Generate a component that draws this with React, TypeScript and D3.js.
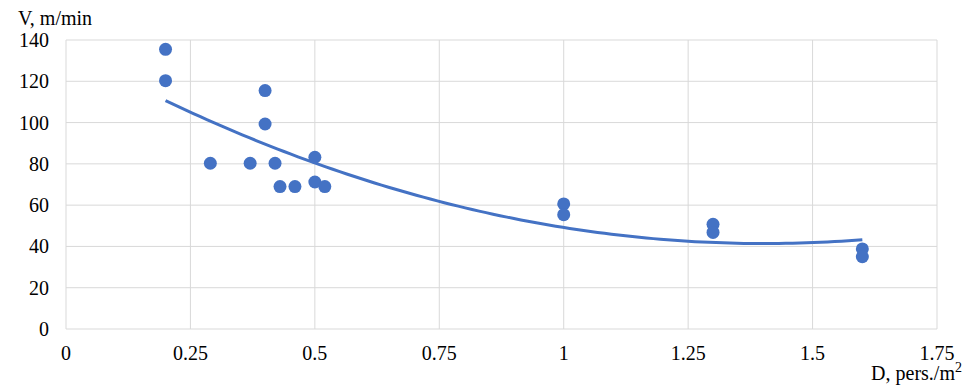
import * as d3 from "d3";

// density D (pers./m2) and speed V (m/min)
const densities = [0.2, 0.2, 0.29, 0.37, 0.4, 0.4, 0.42, 0.43, 0.46, 0.5, 0.5, 0.52, 1, 1, 1.3, 1.3, 1.6, 1.6];
const speeds = [135.5, 120.3, 80.3, 80.3, 115.5, 99.3, 80.3, 69, 69, 83.2, 71.2, 69, 60.6, 55.4, 50.7, 46.8, 38.8, 35];
const xTicks = [0, 0.25, 0.5, 0.75, 1, 1.25, 1.5, 1.75];
const yTicks = [0, 20, 40, 60, 80, 100, 120, 140];

const width = 969;
const height = 387;
const margin = { top: 40, right: 32, bottom: 58, left: 66 };
const serif = "Liberation Serif";

// least squares fit of order 2, like the spreadsheet trendline
function polyFit(xs: number[], ys: number[]) {
  const s = (p: number) => d3.sum(xs, (x) => Math.pow(x, p));
  const t = (p: number) => d3.sum(xs, (x, i) => Math.pow(x, p) * ys[i]);
  const m = [
    [s(4), s(3), s(2), t(2)],
    [s(3), s(2), s(1), t(1)],
    [s(2), s(1), xs.length, t(0)],
  ];
  for (let i = 0; i < 3; i++) {
    for (let k = i + 1; k < 3; k++) {
      const f = m[k][i] / m[i][i];
      for (let j = i; j < 4; j++) m[k][j] -= f * m[i][j];
    }
  }
  const c = [0, 0, 0];
  for (let i = 2; i >= 0; i--) {
    let v = m[i][3];
    for (let j = i + 1; j < 3; j++) v -= m[i][j] * c[j];
    c[i] = v / m[i][i];
  }
  return (x: number) => c[0] * x * x + c[1] * x + c[2];
}

export default function App() {
  const x = d3.scaleLinear().domain([0, 1.75]).range([margin.left, width - margin.right]);
  const y = d3.scaleLinear().domain([0, 140]).range([height - margin.bottom, margin.top]);

  const fit = polyFit(densities, speeds);
  const [x0, x1] = d3.extent(densities) as [number, number];
  const trend = d3.range(0, 101).map((i) => x0 + ((x1 - x0) * i) / 100);
  const line = d3
    .line<number>()
    .x((d) => x(d))
    .y((d) => y(fit(d)));

  return (
    <svg
      width={width}
      height={height}
      style={{ position: "absolute", left: 0, top: 0, background: "#fff" }}
    >
      {yTicks.map((t) => (
        <g key={"y" + t}>
          <line x1={x(0)} x2={x(1.75)} y1={y(t)} y2={y(t)} stroke="#d9d9d9" strokeWidth={1} />
          <text x={49} y={y(t)} dy="0.35em" textAnchor="end" fill="#000" fontFamily={serif} fontSize={20}>
            {t}
          </text>
        </g>
      ))}
      {xTicks.map((t) => (
        <g key={"x" + t}>
          <line x1={x(t)} x2={x(t)} y1={y(0)} y2={y(140)} stroke="#d9d9d9" strokeWidth={1} />
          <text x={x(t)} y={360} textAnchor="middle" fill="#000" fontFamily={serif} fontSize={20}>
            {t}
          </text>
        </g>
      ))}
      <text x={18} y={25} fill="#000" fontFamily={serif} fontSize={20}>
        V, m/min
      </text>
      <text x={962} y={380} textAnchor="end" fill="#000" fontFamily={serif} fontSize={20}>
        D, pers./m<tspan dy={-8} fontSize={14}>2</tspan>
      </text>
      <path d={line(trend) || ""} fill="none" stroke="#4472c4" strokeWidth={3} />
      {densities.map((d, i) => (
        <circle key={i} cx={x(d)} cy={y(speeds[i])} r={6.5} fill="#4472c4" />
      ))}
    </svg>
  );
}
